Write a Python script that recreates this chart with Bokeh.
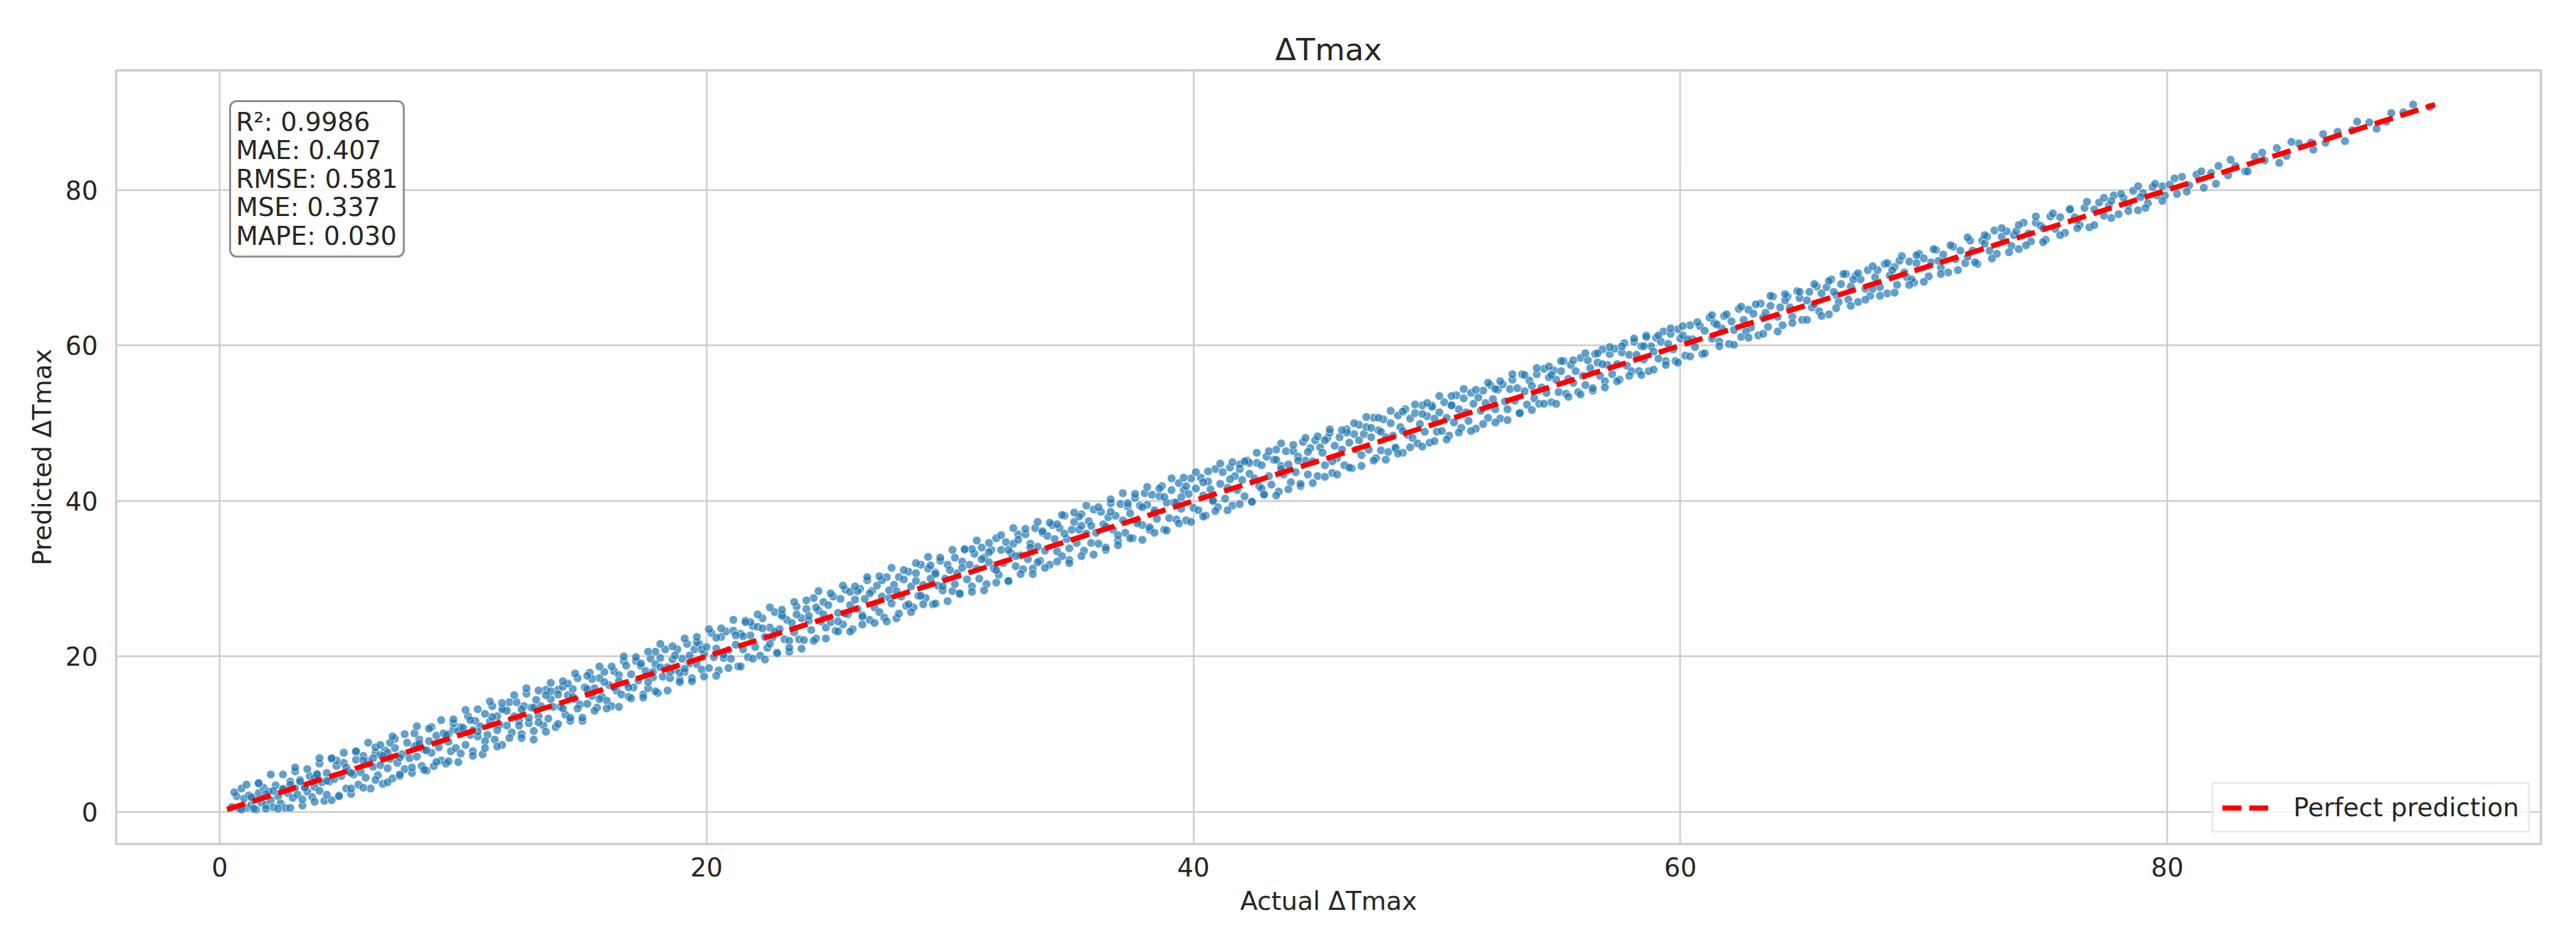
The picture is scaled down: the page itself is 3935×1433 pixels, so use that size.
from bokeh.plotting import figure
from bokeh.models import Range1d, Label, Legend, LegendItem, FixedTicker
from bokeh.embed import file_html
from bokeh.resources import INLINE

# ---------------- data ----------------
title_text = "ΔTmax"
x_label = "Actual ΔTmax"
y_label = "Predicted ΔTmax"
x_ticks = [0, 20, 40, 60, 80]
y_ticks = [0, 20, 40, 60, 80]
stat_names = ["R²", "MAE", "RMSE", "MSE", "MAPE"]
stat_values = ["0.9986", "0.407", "0.581", "0.337", "0.030"]
line_label = "Perfect prediction"

act_00_10 = [
    0.5, 0.7, 0.8, 1.0, 1.1, 1.2, 1.3, 1.4, 1.5, 1.6,
    1.7, 1.8, 1.9, 2.0, 2.1, 2.2, 2.3, 2.4, 2.5, 2.6,
    2.7, 2.8, 2.9, 3.0, 3.1, 3.2, 3.3, 3.4, 3.5, 3.6,
    3.7, 3.8, 3.9, 4.0, 4.1, 4.2, 4.3, 4.4, 4.5, 4.6,
    4.7, 4.8, 4.9, 5.0, 5.1, 5.2, 5.3, 5.4, 5.5, 5.6,
    5.7, 5.8, 5.9, 6.0, 6.1, 6.2, 6.3, 6.4, 6.5, 6.6,
    6.7, 6.8, 6.9, 7.0, 7.1, 7.2, 7.3, 7.4, 7.5, 7.6,
    7.7, 7.8, 7.9, 8.0, 8.1, 8.2, 8.3, 8.4, 8.5, 8.6,
    8.7, 8.8, 8.9, 9.0, 9.1, 9.2, 9.3, 9.4, 9.5, 9.6,
    9.7, 9.8, 9.9, 1.3, 2.6, 3.9, 5.2, 6.6, 8.1, 9.4,
    0.9, 2.2, 3.5, 4.8, 6.3, 7.4, 8.7, 1.9, 3.1, 4.4,
    5.6, 6.9, 8.2, 9.6, 2.9, 4.1, 5.4, 6.7, 8.0, 9.3,
    1.6, 3.3, 4.6, 5.9, 7.2, 8.5, 9.8, 7.0, 4.0, 6.4]
pred_00_10 = [
    0.6, 2.0, 0.4, 1.7, 0.5, 2.1, 0.9, 1.6, 0.3, 2.4,
    1.2, 3.1, 0.9, 2.6, 1.5, 0.6, 3.4, 2.0, 1.1, 3.0,
    0.5, 2.4, 3.9, 1.8, 3.0, 2.2, 4.1, 0.8, 3.3, 2.6,
    4.6, 1.9, 3.2, 4.9, 2.7, 3.8, 1.4, 5.0, 3.9, 1.5,
    4.2, 5.9, 2.1, 4.6, 6.3, 3.0, 5.2, 2.3, 4.8, 6.7,
    3.5, 5.1, 7.2, 4.4, 6.5, 3.0, 5.8, 7.6, 4.7, 6.0,
    3.6, 7.9, 5.6, 6.8, 4.3, 8.2, 6.3, 4.6, 7.4, 5.5,
    8.9, 6.9, 5.0, 8.4, 7.1, 9.3, 5.9, 8.0, 5.3, 9.1,
    7.6, 5.9, 9.8, 8.3, 6.6, 10.1, 6.2, 9.0, 7.8, 10.6,
    8.2, 6.4, 10.9, 1.9, 2.9, 4.4, 5.7, 7.3, 8.6, 10.0,
    3.0, 2.7, 3.1, 6.6, 6.9, 7.0, 10.9, 2.3, 5.2, 4.0,
    7.7, 7.6, 8.8, 11.4, 3.5, 6.2, 5.0, 7.2, 10.1, 9.9,
    3.6, 3.9, 6.8, 6.6, 9.4, 7.9, 10.4, 8.9, 4.8, 8.3]

act_10_20 = [
    10.0, 10.1, 10.2, 10.3, 10.4, 10.5, 10.6, 10.7, 10.8, 10.9,
    11.0, 11.1, 11.2, 11.3, 11.4, 11.5, 11.6, 11.7, 11.8, 11.9,
    12.0, 12.1, 12.2, 12.3, 12.4, 12.5, 12.6, 12.7, 12.8, 12.9,
    13.0, 13.1, 13.2, 13.3, 13.4, 13.5, 13.6, 13.7, 13.8, 13.9,
    14.0, 14.1, 14.2, 14.3, 14.4, 14.5, 14.6, 14.7, 14.8, 14.9,
    15.0, 15.1, 15.2, 15.3, 15.4, 15.5, 15.6, 15.7, 15.8, 15.9,
    16.0, 16.1, 16.2, 16.3, 16.4, 16.5, 16.6, 16.7, 16.8, 16.9,
    17.0, 17.1, 17.2, 17.3, 17.4, 17.5, 17.6, 17.7, 17.8, 17.9,
    18.0, 18.1, 18.2, 18.3, 18.4, 18.5, 18.6, 18.7, 18.8, 18.9,
    19.0, 19.1, 19.2, 19.3, 19.4, 19.5, 19.6, 19.7, 19.8, 19.9,
    10.3, 11.4, 12.4, 13.6, 14.7, 15.8, 16.8, 17.9, 18.5, 19.6,
    10.6, 11.8, 12.9, 14.1, 15.3, 16.4, 17.6, 18.7, 19.3, 10.9,
    11.2, 12.3, 13.4, 14.5, 15.6, 16.7, 17.8, 18.9, 19.8, 13.1,
    10.4, 11.6, 12.7, 13.9, 15.1, 16.2, 17.3, 18.1, 19.1, 14.3]
pred_10_20 = [
    10.8, 8.6, 12.3, 9.9, 7.8, 11.7, 9.7, 11.0, 7.4, 12.6,
    9.9, 11.6, 13.6, 9.3, 12.3, 11.2, 8.6, 13.2, 11.1, 14.1,
    10.2, 12.3, 14.1, 11.7, 10.0, 13.6, 15.2, 11.4, 13.4, 9.3,
    14.4, 12.3, 13.6, 11.1, 15.7, 12.0, 14.5, 13.5, 10.9, 15.7,
    13.5, 16.1, 12.5, 15.0, 11.7, 15.8, 14.5, 17.2, 13.8, 11.7,
    16.0, 13.9, 17.9, 14.9, 15.9, 13.4, 17.2, 14.8, 18.0, 14.3,
    16.3, 13.6, 18.1, 15.6, 17.6, 15.1, 19.4, 16.5, 14.8, 17.7,
    16.0, 19.4, 16.9, 18.8, 15.1, 18.1, 15.9, 19.7, 17.3, 19.0,
    15.3, 19.8, 17.4, 20.9, 18.6, 17.2, 19.6, 18.3, 20.9, 17.0,
    19.7, 18.0, 21.6, 19.1, 17.2, 20.9, 19.0, 21.6, 18.3, 20.3,
    11.8, 10.5, 13.2, 15.5, 13.3, 16.7, 16.0, 20.6, 18.0, 21.8,
    10.3, 13.0, 13.4, 13.3, 17.1, 16.8, 16.7, 20.1, 20.1, 9.1,
    12.2, 11.1, 15.0, 14.8, 14.5, 18.8, 18.0, 17.9, 20.9, 11.5,
    10.5, 13.2, 12.1, 15.1, 15.8, 16.0, 19.1, 18.6, 18.4, 16.5]

act_20_30 = [
    20.0, 20.1, 20.2, 20.3, 20.4, 20.5, 20.6, 20.7, 20.8, 20.9,
    21.0, 21.1, 21.2, 21.3, 21.4, 21.5, 21.6, 21.7, 21.8, 21.9,
    22.0, 22.1, 22.2, 22.3, 22.4, 22.5, 22.6, 22.7, 22.8, 22.9,
    23.0, 23.1, 23.2, 23.3, 23.4, 23.5, 23.6, 23.7, 23.8, 23.9,
    24.0, 24.1, 24.2, 24.3, 24.4, 24.5, 24.6, 24.7, 24.8, 24.9,
    25.0, 25.1, 25.2, 25.3, 25.4, 25.5, 25.6, 25.7, 25.8, 25.9,
    26.0, 26.1, 26.2, 26.3, 26.4, 26.5, 26.6, 26.7, 26.8, 26.9,
    27.0, 27.1, 27.2, 27.3, 27.4, 27.5, 27.6, 27.7, 27.8, 27.9,
    28.0, 28.1, 28.2, 28.3, 28.4, 28.5, 28.6, 28.7, 28.8, 28.9,
    29.0, 29.1, 29.2, 29.3, 29.4, 29.5, 29.6, 29.7, 29.8, 29.9,
    20.4, 21.5, 22.6, 23.7, 24.8, 25.9, 26.4, 27.5, 28.6, 29.7,
    20.7, 21.8, 22.3, 23.4, 24.5, 25.4, 26.7, 27.2, 28.3, 29.4,
    21.2, 22.8, 23.1, 24.2, 25.7, 26.2, 27.8, 28.8, 29.2, 30.0]
pred_20_30 = [
    21.2, 18.5, 23.0, 19.9, 21.0, 18.2, 22.5, 19.8, 23.2, 20.8,
    19.7, 23.3, 21.5, 18.7, 22.9, 20.9, 24.6, 19.9, 22.7, 23.9,
    21.2, 23.8, 20.1, 24.9, 22.5, 21.1, 23.7, 22.4, 25.7, 20.5,
    23.5, 25.4, 22.2, 24.7, 20.6, 24.3, 23.1, 26.4, 22.2, 24.9,
    22.1, 26.1, 24.6, 23.4, 27.5, 22.3, 25.9, 24.5, 27.0, 23.7,
    26.6, 24.4, 27.7, 23.3, 25.6, 27.4, 24.1, 28.6, 25.4, 26.6,
    23.5, 27.3, 26.1, 28.7, 25.3, 27.4, 29.8, 24.7, 28.4, 26.3,
    29.1, 25.7, 27.7, 25.0, 30.2, 27.5, 26.8, 29.2, 24.9, 30.2,
    27.7, 29.9, 26.5, 30.9, 29.0, 26.3, 29.7, 27.8, 31.8, 29.2,
    27.5, 31.3, 30.0, 26.7, 30.8, 29.1, 32.3, 28.5, 30.0, 31.8,
    22.4, 22.6, 21.6, 25.4, 25.4, 28.3, 25.1, 28.5, 30.7, 29.0,
    20.2, 24.4, 23.6, 22.0, 26.3, 24.5, 28.1, 29.8, 26.7, 30.6,
    22.7, 23.2, 25.2, 25.2, 25.5, 28.4, 28.4, 27.8, 31.7, 31.1]

act_30_40 = [
    30.1, 30.2, 30.3, 30.4, 30.5, 30.6, 30.7, 30.8, 30.9, 31.0,
    31.1, 31.2, 31.3, 31.4, 31.5, 31.6, 31.7, 31.8, 31.9, 32.0,
    32.1, 32.2, 32.3, 32.4, 32.5, 32.6, 32.7, 32.8, 32.9, 33.0,
    33.1, 33.2, 33.3, 33.4, 33.5, 33.6, 33.7, 33.8, 33.9, 34.0,
    34.1, 34.2, 34.3, 34.4, 34.5, 34.6, 34.7, 34.8, 34.9, 35.0,
    35.1, 35.2, 35.3, 35.4, 35.5, 35.6, 35.7, 35.8, 35.9, 36.0,
    36.1, 36.2, 36.3, 36.4, 36.5, 36.6, 36.7, 36.8, 36.9, 37.0,
    37.1, 37.2, 37.3, 37.4, 37.5, 37.6, 37.7, 37.8, 37.9, 38.0,
    38.1, 38.2, 38.3, 38.4, 38.5, 38.6, 38.7, 38.8, 38.9, 39.0,
    39.1, 39.2, 39.3, 39.4, 39.5, 39.6, 39.7, 39.8, 39.9, 40.0,
    30.5, 31.6, 32.7, 33.8, 34.9, 35.4, 36.6, 37.7, 38.8, 39.3,
    30.9, 31.9, 32.4, 33.3, 34.4, 35.8, 36.9, 37.3, 38.4, 39.7,
    30.2, 31.3, 32.8, 33.6, 34.7, 35.3, 36.4, 37.9, 38.2, 39.5]
pred_30_40 = [
    28.4, 32.7, 30.7, 28.0, 32.2, 33.7, 29.9, 31.8, 29.0, 33.2,
    31.3, 30.0, 34.0, 32.7, 29.3, 32.1, 33.7, 31.3, 35.2, 30.5,
    33.7, 32.0, 34.7, 29.7, 33.3, 34.5, 31.6, 35.7, 33.0, 31.2,
    35.7, 32.5, 34.5, 31.3, 36.5, 34.1, 32.3, 35.9, 33.6, 35.5,
    31.8, 36.9, 35.1, 33.5, 36.5, 32.9, 38.1, 35.1, 32.4, 36.3,
    37.3, 34.6, 36.3, 38.3, 33.6, 35.8, 37.4, 34.6, 38.9, 35.9,
    34.5, 38.6, 37.0, 33.7, 37.9, 39.7, 36.3, 38.1, 34.9, 39.6,
    37.5, 35.9, 39.3, 38.4, 35.2, 40.4, 37.5, 39.4, 36.9, 41.0,
    39.5, 36.3, 40.8, 38.5, 37.7, 40.6, 41.9, 36.3, 39.8, 37.8,
    41.4, 39.8, 37.6, 42.3, 39.0, 41.4, 37.5, 40.9, 42.9, 39.1,
    31.4, 33.4, 32.9, 36.1, 33.9, 36.8, 38.6, 37.1, 40.5, 39.8,
    33.8, 31.1, 33.7, 34.0, 37.0, 36.8, 35.6, 39.7, 38.8, 41.9,
    29.3, 32.5, 35.0, 32.1, 35.8, 38.0, 36.7, 39.2, 36.6, 40.5]

act_40_50 = [
    40.1, 40.2, 40.3, 40.4, 40.5, 40.6, 40.7, 40.8, 40.9, 41.0,
    41.1, 41.2, 41.3, 41.4, 41.5, 41.6, 41.7, 41.8, 41.9, 42.0,
    42.1, 42.2, 42.3, 42.4, 42.5, 42.6, 42.7, 42.8, 42.9, 43.0,
    43.1, 43.2, 43.3, 43.4, 43.5, 43.6, 43.7, 43.8, 43.9, 44.0,
    44.1, 44.2, 44.3, 44.4, 44.5, 44.6, 44.7, 44.8, 44.9, 45.0,
    45.1, 45.2, 45.3, 45.4, 45.5, 45.6, 45.7, 45.8, 45.9, 46.0,
    46.1, 46.2, 46.3, 46.4, 46.5, 46.6, 46.7, 46.8, 46.9, 47.0,
    47.1, 47.2, 47.3, 47.4, 47.5, 47.6, 47.7, 47.8, 47.9, 48.0,
    48.1, 48.2, 48.3, 48.4, 48.5, 48.6, 48.7, 48.8, 48.9, 49.0,
    49.1, 49.2, 49.3, 49.4, 49.5, 49.6, 49.7, 49.8, 49.9, 50.0,
    40.4, 41.5, 42.3, 43.6, 44.7, 45.4, 46.8, 47.3, 48.6, 49.4,
    40.8, 41.9, 42.8, 43.4, 44.3, 45.7, 46.3, 47.7, 48.3, 49.8]
pred_40_50 = [
    41.6, 38.8, 43.0, 40.7, 38.1, 42.5, 41.5, 40.1, 44.1, 39.2,
    42.2, 43.7, 40.3, 41.7, 44.3, 39.4, 43.2, 41.4, 44.1, 42.7,
    40.6, 45.2, 43.5, 39.9, 42.9, 44.9, 41.9, 44.6, 40.9, 45.7,
    43.2, 42.1, 45.3, 46.6, 41.2, 44.5, 43.4, 46.4, 44.7, 42.4,
    46.4, 43.7, 45.7, 41.9, 47.6, 45.2, 43.4, 46.8, 45.1, 47.8,
    43.2, 46.9, 46.2, 44.6, 48.1, 48.8, 43.6, 47.1, 45.5, 48.2,
    46.6, 44.6, 49.2, 47.5, 44.2, 48.6, 46.6, 49.8, 45.9, 48.6,
    49.5, 46.6, 48.2, 50.7, 45.5, 49.1, 46.5, 50.5, 48.2, 46.3,
    50.0, 48.4, 46.9, 51.0, 49.5, 46.2, 51.8, 48.5, 50.6, 48.1,
    51.3, 47.4, 49.9, 52.3, 48.9, 50.9, 47.5, 52.3, 50.6, 48.9,
    42.4, 42.8, 44.9, 44.1, 46.3, 47.8, 47.8, 49.4, 49.0, 51.2,
    40.0, 44.7, 41.6, 45.3, 45.2, 45.1, 48.8, 48.9, 46.8, 52.1]

act_50_60 = [
    50.1, 50.2, 50.3, 50.4, 50.5, 50.6, 50.7, 50.8, 50.9, 51.0,
    51.1, 51.2, 51.3, 51.4, 51.5, 51.6, 51.7, 51.8, 51.9, 52.0,
    52.1, 52.2, 52.3, 52.4, 52.5, 52.6, 52.7, 52.8, 52.9, 53.0,
    53.1, 53.2, 53.3, 53.4, 53.5, 53.6, 53.7, 53.8, 53.9, 54.0,
    54.1, 54.2, 54.3, 54.4, 54.5, 54.6, 54.7, 54.8, 54.9, 55.0,
    55.1, 55.2, 55.3, 55.4, 55.5, 55.6, 55.7, 55.8, 55.9, 56.0,
    56.1, 56.2, 56.3, 56.4, 56.5, 56.6, 56.7, 56.8, 56.9, 57.0,
    57.1, 57.2, 57.3, 57.4, 57.5, 57.6, 57.7, 57.8, 57.9, 58.0,
    58.1, 58.2, 58.3, 58.4, 58.5, 58.6, 58.7, 58.8, 58.9, 59.0,
    59.1, 59.2, 59.3, 59.4, 59.5, 59.6, 59.7, 59.8, 59.9, 60.0,
    50.6, 52.4, 54.7, 56.8, 58.5]
pred_50_60 = [
    51.4, 49.0, 52.7, 50.7, 48.4, 52.3, 50.1, 53.6, 51.8, 49.4,
    53.2, 51.4, 50.3, 53.9, 52.5, 49.3, 53.3, 51.6, 54.2, 52.6,
    50.7, 54.9, 53.1, 51.8, 54.3, 50.6, 55.0, 52.8, 51.8, 54.4,
    55.6, 52.9, 54.5, 51.3, 56.3, 54.1, 52.4, 55.5, 54.8, 53.2,
    56.3, 52.5, 54.6, 57.0, 53.9, 55.9, 52.7, 56.8, 55.6, 54.0,
    56.7, 58.0, 53.8, 55.7, 57.5, 55.2, 56.7, 54.0, 58.4, 56.1,
    54.9, 58.1, 57.1, 54.2, 58.9, 57.8, 56.1, 59.5, 55.4, 57.5,
    58.9, 56.3, 59.6, 57.6, 55.6, 59.1, 60.3, 57.4, 58.8, 56.7,
    60.5, 58.8, 56.7, 59.9, 58.2, 61.3, 56.7, 59.9, 59.2, 61.0,
    58.3, 60.5, 61.8, 58.0, 60.2, 61.5, 59.5, 58.0, 62.1, 60.9,
    52.3, 54.4, 56.2, 57.6, 59.9]

act_60_70 = [
    60.1, 60.2, 60.4, 60.5, 60.6, 60.8, 60.9, 61.0, 61.2, 61.3,
    61.4, 61.6, 61.7, 61.8, 62.0, 62.1, 62.2, 62.4, 62.5, 62.6,
    62.8, 62.9, 63.0, 63.2, 63.3, 63.4, 63.6, 63.7, 63.8, 64.0,
    64.1, 64.2, 64.4, 64.5, 64.6, 64.8, 64.9, 65.0, 65.2, 65.3,
    65.4, 65.6, 65.7, 65.8, 66.0, 66.1, 66.2, 66.4, 66.5, 66.6,
    66.8, 66.9, 67.0, 67.2, 67.3, 67.4, 67.6, 67.7, 67.8, 68.0,
    68.1, 68.2, 68.4, 68.5, 68.6, 68.8, 68.9, 69.0, 69.2, 69.3,
    69.4, 69.6, 69.7, 69.8, 60.3, 61.5, 62.7, 63.5, 64.3, 65.5,
    66.3, 67.1, 67.9, 68.7, 69.5]
pred_60_70 = [
    61.3, 58.7, 62.6, 60.8, 59.8, 62.5, 58.9, 61.9, 63.6, 60.9,
    62.9, 60.5, 62.2, 63.8, 60.2, 63.1, 62.0, 64.7, 61.1, 63.3,
    64.6, 62.3, 64.1, 61.3, 65.4, 63.6, 62.4, 65.1, 66.3, 63.7,
    64.9, 62.6, 66.3, 64.9, 63.7, 67.0, 66.1, 63.3, 65.8, 66.9,
    64.9, 67.6, 64.4, 66.7, 67.5, 64.0, 68.5, 66.5, 65.6, 67.9,
    69.2, 65.9, 67.6, 69.0, 65.6, 68.5, 67.3, 69.7, 66.4, 68.8,
    69.7, 67.5, 70.5, 66.7, 69.0, 70.1, 67.8, 70.9, 69.4, 68.8,
    70.8, 68.1, 70.6, 71.8, 60.8, 62.7, 61.8, 64.2, 65.8, 65.3,
    66.9, 68.5, 67.3, 69.7, 68.5]

act_70_80 = [
    70.0, 70.2, 70.3, 70.5, 70.7, 70.8, 71.0, 71.2, 71.3, 71.5,
    71.7, 71.9, 72.0, 72.2, 72.4, 72.5, 72.7, 72.9, 73.0, 73.2,
    73.4, 73.6, 73.7, 73.9, 74.1, 74.3, 74.4, 74.6, 74.8, 75.0,
    75.2, 75.4, 75.6, 75.8, 76.0, 76.2, 76.4, 76.6, 76.8, 77.0,
    77.2, 77.4, 77.6, 77.8, 78.0, 78.2, 78.4, 78.6, 78.8, 79.0,
    79.2, 79.4, 79.6, 79.8, 70.6, 71.8, 72.6, 73.8, 74.9, 76.3,
    77.7, 78.9, 79.9]
pred_70_80 = [
    71.2, 68.9, 70.7, 72.3, 70.0, 71.7, 69.4, 72.7, 71.1, 72.2,
    70.6, 73.5, 72.2, 70.5, 73.5, 73.1, 72.2, 74.8, 71.8, 74.0,
    74.7, 72.8, 74.2, 72.4, 75.8, 74.4, 73.4, 75.8, 75.4, 73.6,
    76.6, 75.0, 76.5, 74.5, 77.6, 76.5, 75.5, 77.7, 75.2, 77.5,
    78.4, 76.7, 78.0, 79.3, 76.9, 79.0, 78.1, 79.9, 77.4, 79.6,
    78.3, 80.4, 79.3, 80.5, 70.9, 71.4, 74.0, 74.7, 75.1, 76.1,
    78.6, 79.1, 79.3]

act_80_91 = [
    80.1, 80.4, 80.6, 80.9, 81.2, 81.5, 81.8, 82.1, 82.5, 82.8,
    83.2, 83.6, 84.0, 84.5, 84.9, 85.4, 85.9, 86.5, 87.0, 87.6,
    88.3, 89.0, 89.7, 90.1, 90.8]
pred_80_91 = [
    80.7, 79.5, 81.7, 80.6, 82.0, 80.3, 82.2, 83.1, 81.9, 83.1,
    82.4, 84.3, 83.8, 85.4, 84.4, 86.0, 86.1, 86.1, 87.5, 87.7,
    88.7, 88.8, 90.0, 91.0, 90.7]

# points along the upper side of the cloud
act_upper = [
    0.6, 1.1, 1.6, 2.1, 2.6, 3.1, 3.6, 4.1, 4.6, 5.1,
    5.6, 6.1, 6.6, 7.1, 7.6, 8.1, 8.6, 9.1, 9.6, 10.1,
    10.6, 11.1, 11.6, 12.1, 12.6, 13.1, 13.6, 14.1, 14.6, 15.1,
    15.6, 16.1, 16.6, 17.1, 17.6, 18.1, 18.6, 19.1, 19.6, 20.1,
    20.6, 21.1, 21.6, 22.1, 22.6, 23.1, 23.6, 24.1, 24.6, 25.1,
    25.6, 26.1, 26.6, 27.1, 27.6, 28.1, 28.6, 29.1, 29.6, 30.1,
    30.6, 31.1, 31.6, 32.1, 32.6, 33.1, 33.6, 34.1, 34.6, 35.1,
    35.6, 36.1, 36.6, 37.1, 37.6, 38.1, 38.6, 39.1, 39.6, 40.1,
    40.6, 41.1, 41.6, 42.1, 42.6, 43.1, 43.6, 44.1, 44.6, 45.1,
    45.6, 46.1, 46.6, 47.1, 47.6, 48.1, 48.6, 49.1, 49.6, 50.1,
    50.6, 51.1, 51.6, 52.1, 52.6, 53.1, 53.6, 54.1, 54.6, 55.1,
    55.6, 56.1, 56.6, 57.1, 57.6, 58.1, 58.6, 59.1, 59.6, 60.1,
    60.7, 61.3, 61.9, 62.5, 63.1, 63.7, 64.3, 64.9, 65.5, 66.1,
    66.7, 67.3, 67.9, 68.5, 69.1, 69.7, 70.4, 71.1, 71.8, 72.5,
    73.2, 73.9, 74.6, 75.3, 76.0, 76.7, 77.4, 78.1, 78.8, 79.5,
    80.3, 81.4, 82.6, 83.9, 85.1, 86.4, 87.8, 89.2]
pred_upper = [
    2.5, 3.5, 3.7, 4.8, 4.8, 5.7, 5.5, 6.9, 6.9, 7.6,
    7.8, 8.9, 8.6, 9.7, 10.0, 11.0, 10.7, 11.8, 11.9, 13.1,
    13.2, 14.2, 14.0, 15.0, 15.9, 15.6, 16.6, 16.8, 17.8, 17.5,
    18.7, 18.7, 20.0, 19.9, 20.6, 21.6, 21.3, 22.3, 22.5, 23.5,
    23.6, 24.7, 24.4, 25.4, 26.3, 26.0, 27.0, 27.2, 28.4, 28.1,
    29.1, 29.0, 30.2, 30.3, 31.4, 31.1, 32.0, 32.8, 32.7, 33.7,
    33.8, 34.9, 34.6, 35.6, 36.5, 36.4, 37.3, 37.2, 38.2, 38.5,
    39.4, 39.2, 40.2, 41.0, 40.9, 41.8, 41.6, 42.9, 43.0, 43.7,
    43.8, 44.8, 45.0, 45.1, 46.2, 46.4, 47.4, 47.2, 48.1, 48.3,
    49.2, 49.1, 50.0, 50.8, 50.7, 51.6, 51.5, 52.4, 52.6, 53.5,
    53.5, 54.4, 54.3, 55.2, 55.4, 56.3, 56.2, 57.1, 57.3, 58.0,
    58.1, 59.0, 59.0, 59.8, 59.9, 60.9, 61.1, 61.3, 62.2, 62.5,
    63.0, 63.9, 64.0, 65.0, 65.3, 66.4, 66.6, 66.9, 67.9, 68.3,
    69.2, 69.3, 70.2, 70.6, 71.5, 71.6, 72.4, 72.9, 73.9, 74.2,
    75.1, 75.5, 76.6, 77.0, 77.5, 78.5, 79.0, 79.5, 80.5, 80.8,
    81.5, 82.4, 83.9, 84.8, 86.2, 87.2, 88.8, 89.9]

# points along the lower side of the cloud
act_lower = [
    0.9, 1.4, 1.9, 2.4, 2.9, 3.4, 3.9, 4.4, 4.9, 5.4,
    5.9, 6.4, 6.9, 7.4, 7.9, 8.4, 8.9, 9.4, 9.9, 10.4,
    10.9, 11.4, 11.9, 12.4, 12.9, 13.4, 13.9, 14.4, 14.9, 15.4,
    15.9, 16.4, 16.9, 17.4, 17.9, 18.4, 18.9, 19.4, 19.9, 20.4,
    20.9, 21.4, 21.9, 22.4, 22.9, 23.4, 23.9, 24.4, 24.9, 25.4,
    25.9, 26.4, 26.9, 27.4, 27.9, 28.4, 28.9, 29.4, 29.9, 30.4,
    30.9, 31.4, 31.9, 32.4, 32.9, 33.4, 33.9, 34.4, 34.9, 35.4,
    35.9, 36.4, 36.9, 37.4, 37.9, 38.4, 38.9, 39.4, 39.9, 40.4,
    40.9, 41.4, 41.9, 42.4, 42.9, 43.4, 43.9, 44.4, 44.9, 45.4,
    45.9, 46.4, 46.9, 47.4, 47.9, 48.4, 48.9, 49.4, 49.9, 50.4,
    50.9, 51.4, 51.9, 52.4, 52.9, 53.4, 53.9, 54.4, 54.9, 55.4,
    55.9, 56.4, 56.9, 57.4, 57.9, 58.4, 58.9, 59.4, 59.9, 60.4,
    61.0, 61.6, 62.2, 62.8, 63.4, 64.0, 64.6, 65.2, 65.8, 66.4,
    67.0, 67.6, 68.2, 68.8, 69.4, 70.0, 70.7, 71.4, 72.1, 72.8,
    73.5, 74.2, 74.9, 75.6, 76.3, 77.0, 77.7, 78.4, 79.1, 79.8,
    80.8, 82.0, 83.3, 84.6, 86.0, 87.3, 88.6]
pred_lower = [
    0.3, 0.4, 0.4, 0.4, 0.5, 1.6, 1.3, 2.2, 2.0, 3.0,
    3.1, 4.1, 3.8, 4.8, 5.7, 5.4, 6.4, 6.5, 7.5, 7.2,
    8.2, 8.4, 9.5, 9.5, 10.4, 10.3, 11.3, 12.1, 12.1, 13.0,
    13.3, 13.5, 14.6, 14.7, 15.5, 15.6, 16.7, 16.8, 17.4, 17.5,
    18.5, 18.7, 19.7, 19.6, 20.4, 21.1, 21.0, 22.0, 22.3, 23.2,
    23.2, 24.1, 24.3, 24.5, 25.5, 25.7, 26.7, 26.8, 27.1, 28.1,
    28.3, 28.5, 29.5, 29.7, 30.6, 30.6, 31.4, 32.2, 32.0, 32.9,
    33.1, 34.0, 34.3, 35.2, 35.0, 35.9, 36.2, 37.1, 37.3, 38.0,
    38.7, 38.8, 39.6, 39.9, 40.8, 40.7, 41.5, 42.2, 42.3, 43.1,
    43.4, 44.3, 44.5, 45.2, 45.3, 46.1, 46.9, 47.0, 47.7, 47.9,
    48.8, 49.0, 49.9, 50.1, 50.4, 51.3, 51.7, 52.5, 52.5, 53.4,
    53.7, 54.5, 54.6, 55.4, 56.1, 56.2, 56.9, 57.5, 57.8, 58.6,
    59.0, 59.9, 60.1, 61.0, 61.5, 61.8, 62.9, 63.3, 63.8, 64.8,
    65.1, 65.9, 66.4, 66.8, 67.8, 68.2, 69.2, 69.7, 70.7, 71.2,
    72.0, 72.9, 73.3, 74.2, 75.1, 75.5, 76.4, 77.3, 77.7, 78.6,
    79.8, 80.8, 82.4, 83.5, 85.2, 86.3, 87.9]

# ---------------- assemble ----------------
segments = [
    (act_00_10, pred_00_10), (act_10_20, pred_10_20), (act_20_30, pred_20_30),
    (act_30_40, pred_30_40), (act_40_50, pred_40_50), (act_50_60, pred_50_60),
    (act_60_70, pred_60_70), (act_70_80, pred_70_80), (act_80_91, pred_80_91),
    (act_upper, pred_upper), (act_lower, pred_lower),
]
actual, predicted = [], []
for a_seg, p_seg in segments:
    for a, pv in zip(a_seg, p_seg):
        actual.append(a)
        predicted.append(pv)

lo = min(min(actual), min(predicted))
hi = max(max(actual), max(predicted))

FONT = "DejaVu Sans"
TXT = "#262626"

p = figure(width=3919, height=1417, output_backend="svg", toolbar_location=None,
           x_range=Range1d(-4.25, 95.35), y_range=Range1d(-4.15, 95.4),
           min_border_left=177, min_border_right=38,
           min_border_top=107, min_border_bottom=128,
           background_fill_color="white", border_fill_color="white")

p.title.text = title_text
p.title.align = "center"
p.title.text_font = FONT
p.title.text_font_size = "47px"
p.title.text_font_style = "normal"
p.title.text_color = TXT
p.title.standoff = 10

p.outline_line_color = "#cccccc"
p.outline_line_width = 3.5

for ax, lab, ticks in ((p.xaxis, x_label, x_ticks), (p.yaxis, y_label, y_ticks)):
    ax.ticker = FixedTicker(ticks=ticks)
    ax.axis_label = lab
    ax.axis_label_text_font = FONT
    ax.axis_label_text_font_size = "39px"
    ax.axis_label_text_font_style = "normal"
    ax.axis_label_text_color = TXT
    ax.major_label_text_font = FONT
    ax.major_label_text_font_size = "39px"
    ax.major_label_text_color = TXT
    ax.axis_line_color = None
    ax.major_tick_line_color = None
    ax.minor_tick_line_color = None
    ax.major_tick_out = 0
    ax.major_tick_in = 0

p.xaxis.major_label_standoff = 20
p.xaxis.axis_label_standoff = 12
p.yaxis.major_label_standoff = 28
p.yaxis.axis_label_standoff = 10

p.grid.grid_line_color = "#cccccc"
p.grid.grid_line_width = 2.5

p.scatter(actual, predicted, size=13, marker="circle",
          fill_color="#1f77b4", fill_alpha=0.7,
          line_color="white", line_width=1, line_alpha=0.7)

perfect = p.line([lo, hi], [lo, hi], line_color="#ff0000", line_width=8,
                 line_dash="29 12")

legend = Legend(items=[LegendItem(label=line_label, renderers=[perfect])],
                location="bottom_right")
legend.label_text_font = FONT
legend.label_text_font_size = "39px"
legend.label_text_color = TXT
legend.glyph_width = 73
legend.glyph_height = 42
legend.label_height = 42
legend.label_standoff = 36
legend.padding = 13
legend.margin = 17
legend.spacing = 0
legend.border_line_color = "#d6d6d6"
legend.border_line_width = 3
legend.background_fill_alpha = 0.8
p.add_layout(legend)

stats_text = "\n".join(f"{n}: {v}" for n, v in zip(stat_names, stat_values))
stats = Label(x=174, y=1135, x_units="screen", y_units="screen",
              text=stats_text, text_align="left", text_baseline="top",
              text_font=FONT, text_font_size="39px", text_color=TXT,
              text_line_height=0.97,
              background_fill_color="white", background_fill_alpha=0.8,
              border_line_color="#8c8c8c", border_line_width=3,
              border_radius=10, padding=9)
p.add_layout(stats)

open("out.html", "w").write(file_html(p, INLINE))
